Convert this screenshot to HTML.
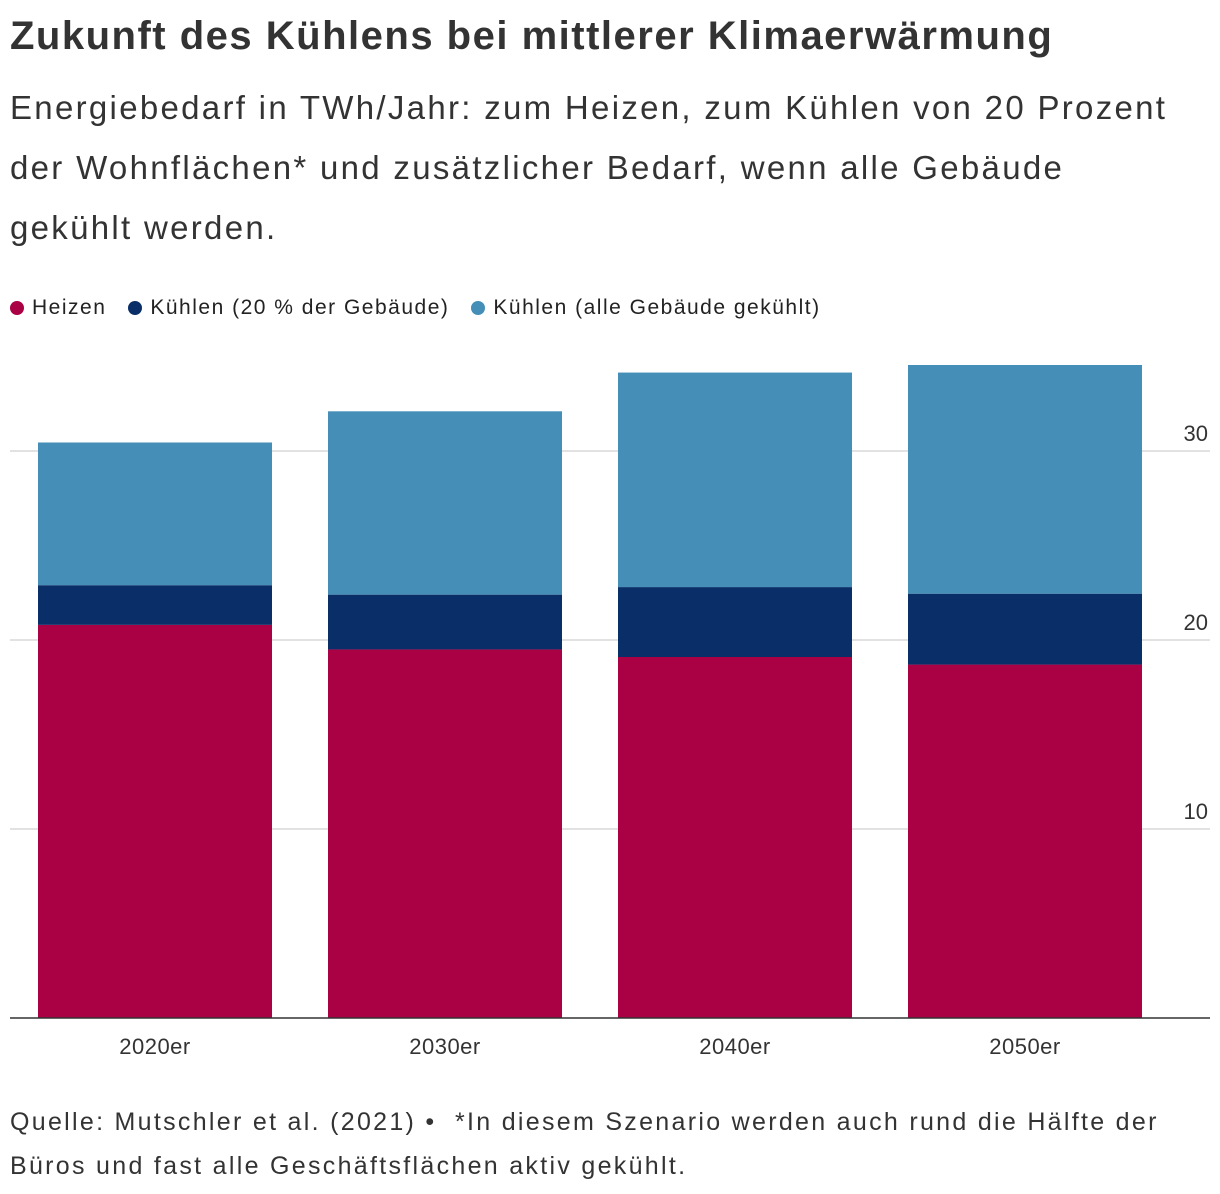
<!DOCTYPE html>
<html><head><meta charset="utf-8"><style>
body{margin:0;width:1220px;height:1194px;background:#fff;font-family:"Liberation Sans",sans-serif;color:#222;position:relative;overflow:hidden}
h1{position:absolute;left:10px;top:14px;margin:0;font-size:40px;font-weight:bold;color:#333;letter-spacing:1.5px;white-space:nowrap}
.sub{position:absolute;left:10px;top:78px;width:1210px;font-size:33px;line-height:60px;color:#333;letter-spacing:2.3px;white-space:nowrap}
.legend{position:absolute;left:10px;top:296px;font-size:21px;color:#222;display:flex;gap:22px;letter-spacing:1.5px;white-space:nowrap}
.legend span{display:flex;align-items:center}
.dot{width:14px;height:14px;border-radius:50%;display:inline-block;margin-right:8px}
.src{position:absolute;left:10px;top:1100px;font-size:25px;line-height:44px;color:#333;width:1210px;letter-spacing:2.3px;white-space:nowrap}
</style></head><body>
<h1>Zukunft des Kühlens bei mittlerer Klimaerwärmung</h1>
<div class="sub">Energiebedarf in TWh/Jahr: zum Heizen, zum Kühlen von 20 Prozent<br>der Wohnflächen* und zusätzlicher Bedarf, wenn alle Gebäude<br>gekühlt werden.</div>
<div class="legend">
<span><i class="dot" style="background:#aa0044"></i>Heizen</span>
<span><i class="dot" style="background:#0a2f68"></i>Kühlen (20 % der Gebäude)</span>
<span><i class="dot" style="background:#448eb7"></i>Kühlen (alle Gebäude gekühlt)</span>
</div>
<svg id="chart" width="1220" height="1194" style="position:absolute;left:0;top:0"></svg>
<div class="src">Quelle: Mutschler et al. (2021) •&nbsp; *In diesem Szenario werden auch rund die Hälfte der<br>Büros und fast alle Geschäftsflächen aktiv gekühlt.</div>
<script>
const categories=["2020er","2030er","2040er","2050er"];
const heizen=[20.8,19.5,19.1,18.7];
const kuehlen20=[2.1,2.9,3.7,3.75];
const kuehlenAlle=[7.55,9.7,11.35,12.1];
const ticks=[10,20,30];
const NS="http://www.w3.org/2000/svg";
const svg=document.getElementById('chart');
const y0=1018,ppu=18.9;
const y=v=>y0-v*ppu;
const x=i=>38+i*290;
const bw=234;
function mk(t,a){const e=document.createElementNS(NS,t);for(const k in a)e.setAttribute(k,a[k]);svg.appendChild(e);return e;}
ticks.forEach(t=>{
 const l=mk('line',{x1:10,x2:1210,y1:y(t),y2:y(t),stroke:'#d8d8d8','stroke-width':1.5});
 
 
 const tx=mk('text',{x:1208,y:y(t)-10,'text-anchor':'end','font-size':22,fill:'#333','font-family':'Liberation Sans, sans-serif'});
 tx.textContent=t;
 
 
});
const series=[[heizen,'#aa0044','heizen'],[kuehlen20,'#0a2f68','kuehlen-20'],[kuehlenAlle,'#448eb7','kuehlen-alle']];
categories.forEach((c,i)=>{
 let base=0;
 series.forEach(([arr,col,nm])=>{
  const r=mk('rect',{x:x(i),y:y(base+arr[i]),width:bw,height:arr[i]*ppu,fill:col});
  
  
  base+=arr[i];
 });
 const t=mk('text',{x:x(i)+bw/2,y:1054,'text-anchor':'middle','font-size':22,fill:'#333','font-family':'Liberation Sans, sans-serif','letter-spacing':'0.5'});
 t.textContent=c;
 
 
});
const ax=mk('line',{x1:10,x2:1210,y1:y0,y2:y0,stroke:'#333','stroke-width':1.5});


</script>
</body></html>
